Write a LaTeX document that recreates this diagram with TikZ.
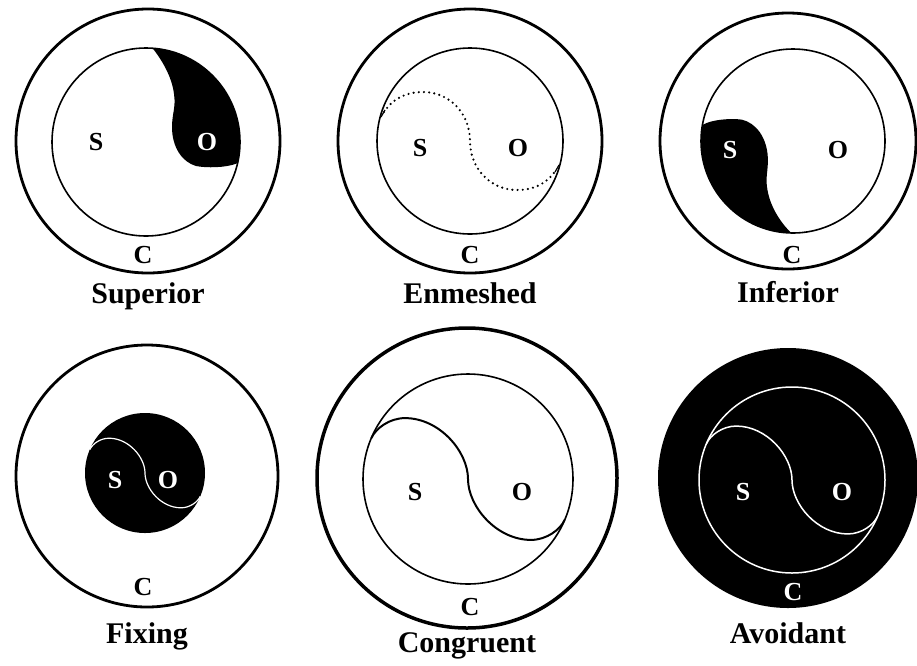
\documentclass[tikz,border=0pt]{standalone}
\usepackage{fontspec}
\setmainfont{Liberation Serif}
\usetikzlibrary{positioning}

\tikzset{
  ring/.style={circle, draw, line width=2.8pt, inner sep=0pt},
  inner ring/.style={circle, draw, line width=1.6pt, inner sep=0pt},
  letter/.style={font=\fontsize{26}{26}\selectfont\bfseries, inner sep=0pt},
  caption/.style={font=\fontsize{30}{30}\selectfont\bfseries, inner sep=0pt},
  scurve/.pic={
    \path[pic actions] (-0.92,-0.39) .. controls (-0.88,-0.48) and (-0.75,-0.58) .. (-0.6,-0.58)
      .. controls (-0.27,-0.58) and (0,-0.26) .. (0,0)
      .. controls (0,0.26) and (0.27,0.58) .. (0.6,0.58)
      .. controls (0.75,0.58) and (0.88,0.48) .. (0.92,0.39);
  }
}

\begin{document}
\begin{tikzpicture}[x=1pt, y=-1pt]
\useasboundingbox (0,0) rectangle (917,665);

% Superior
\node[ring, minimum size=264pt] (sup) at (148,141) {};
\node[inner ring, minimum size=188pt] (sup-in) at (146,142) {};
\begin{scope}[shift={(146,142)}]
  \fill (-86:94) arc[start angle=-86, end angle=13, radius=94]
    .. controls (80,26) and (60,26) .. (50,24)
    .. controls (36,20) and (26,5) .. (26,-15)
    .. controls (26,-28) and (30,-35) .. (28,-48)
    .. controls (26,-65) and (16,-82) .. (-86:94) -- cycle;
\end{scope}
\node[letter] (sup-s) at (96,142) {S};
\node[letter, text=white] (sup-o) at (207,142) {O};
\node[letter] (sup-c) at (143,255) {C};
\node[caption, below=8pt of sup] (sup-lab) {Superior};

% Enmeshed
\node[ring, minimum size=264pt] (enm) at (470,141) {};
\node[inner ring, minimum size=186pt] (enm-in) at (470,141) {};
\begin{scope}[shift={(470,141)}]
  \draw[line width=2.4pt, line cap=round, dash pattern=on 0pt off 5.2pt]
    (-86,-29) .. controls (-76,-44) and (-62,-49) .. (-47,-49)
    .. controls (-20,-49) and (0,-27) .. (0,0)
    .. controls (0,27) and (20,49) .. (47,49)
    .. controls (62,49) and (76,44) .. (86,29);
  \draw[line width=1.2pt] (-85,-31) -- (-89,-24);
  \draw[line width=1.2pt] (85,31) -- (89,24);
\end{scope}
\node[letter] (enm-s) at (420,148) {S};
\node[letter] (enm-o) at (518,148) {O};
\node[letter] (enm-c) at (470,255) {C};
\node[caption, below=8pt of enm] (enm-lab) {Enmeshed};

% Inferior
\node[ring, minimum size=256pt] (inf) at (788,141) {};
\node[inner ring, minimum size=184pt] (inf-in) at (793,141) {};
\begin{scope}[shift={(793,141)}, rotate=183]
  \fill (-86:92) arc[start angle=-86, end angle=13, radius=92]
    .. controls (80,26) and (60,26) .. (50,24)
    .. controls (36,20) and (26,5) .. (26,-15)
    .. controls (26,-28) and (30,-35) .. (28,-48)
    .. controls (26,-65) and (16,-82) .. (-86:92) -- cycle;
\end{scope}
\node[letter, text=white] (inf-s) at (730,150) {S};
\node[letter] (inf-o) at (838,150) {O};
\node[letter] (inf-c) at (792,255) {C};
\node[caption, below=11pt of inf] (inf-lab) {Inferior};

% Fixing
\node[ring, minimum size=262pt] (fix) at (147,476) {};
\node[circle, fill, inner sep=0pt, minimum size=120pt] (fix-in) at (145,473) {};
\pic[draw=white, line width=1.2pt, scale=60] at (fix-in.center) {scurve};
\node[letter, text=white] (fix-s) at (115,480) {S};
\node[letter, text=white] (fix-o) at (168,480) {O};
\node[letter] (fix-c) at (143,587) {C};
\node[caption, below=14pt of fix] (fix-lab) {Fixing};

% Congruent
\node[ring, line width=3.5pt, minimum size=300pt] (con) at (467,478) {};
\node[inner ring, minimum size=210pt] (con-in) at (468,479) {};
\pic[draw, line width=2pt, scale=105] at (con-in.center) {scurve};
\node[letter] (con-s) at (415,492) {S};
\node[letter] (con-o) at (522,492) {O};
\node[letter] (con-c) at (470,607) {C};
\node[caption, below=3pt of con] (con-lab) {Congruent};

% Avoidant
\node[circle, fill, inner sep=0pt, minimum size=260pt] (avo) at (788,478) {};
\node[circle, draw=white, line width=1.5pt, inner sep=0pt, minimum size=186pt] (avo-in) at (792,480) {};
\pic[draw=white, line width=1.5pt, scale=93] at (avo-in.center) {scurve};
\node[letter, text=white] (avo-s) at (743,492) {S};
\node[letter, text=white] (avo-o) at (842,492) {O};
\node[letter, text=white] (avo-c) at (793,592) {C};
\node[caption, below=14pt of avo] (avo-lab) {Avoidant};
\end{tikzpicture}
\end{document}
